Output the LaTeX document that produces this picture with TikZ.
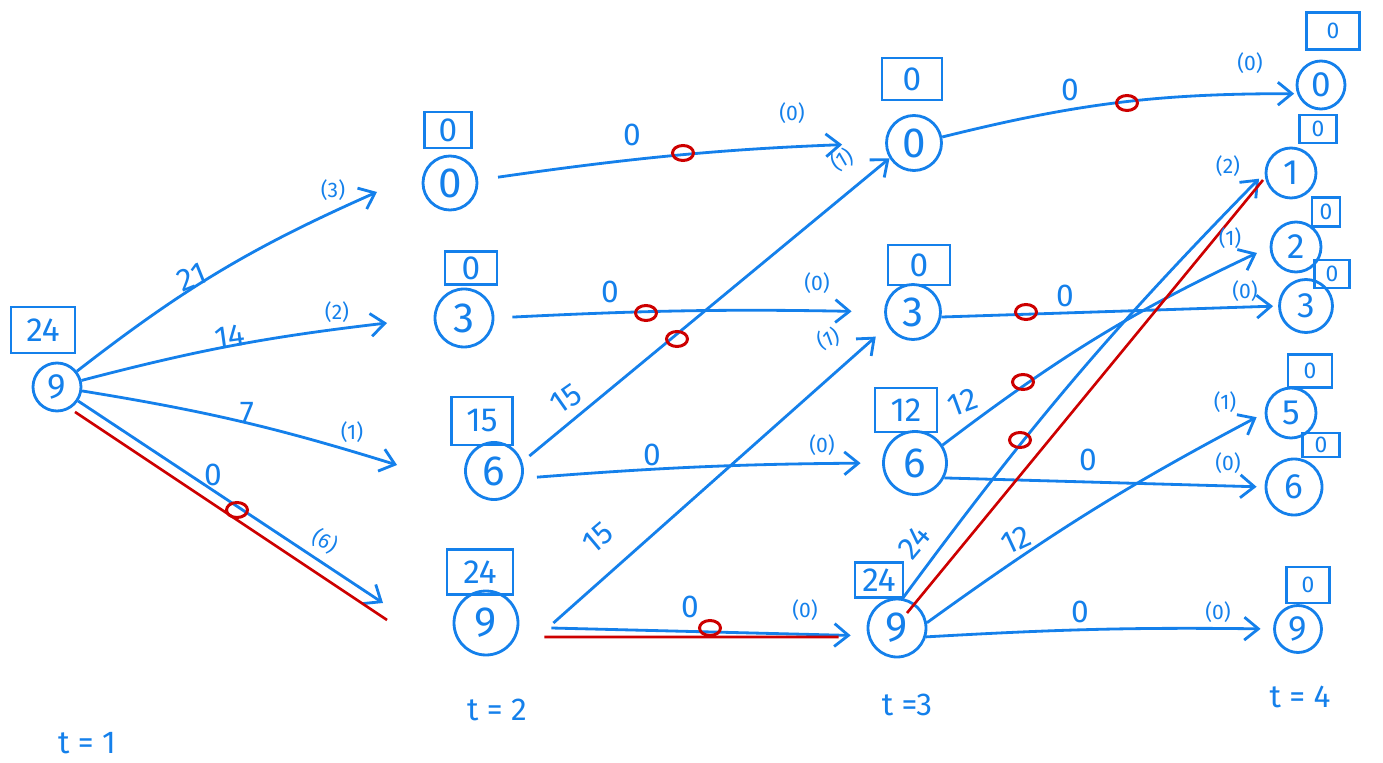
\documentclass[tikz,border=0pt]{standalone}
\usepackage{fontspec}
\setmainfont{Fira Sans}
\usetikzlibrary{arrows.meta,shapes.geometric}
\definecolor{penblue}{RGB}{20,128,235}
\definecolor{penred}{RGB}{205,0,0}
\tikzset{
  state/.style={circle,draw=penblue,line width=1.6pt,inner sep=0pt,minimum size=#1,text=penblue,font=\fontsize{24}{24}\selectfont},
  leaf/.style={state=#1,font=\fontsize{20}{20}\selectfont},
  valbox/.style 2 args={draw=penblue,line width=1.3pt,inner sep=0pt,minimum width=#1,minimum height=#2,text=penblue,font=\fontsize{19}{19}\selectfont},
  smallbox/.style 2 args={valbox={#1}{#2},font=\fontsize{13}{13}\selectfont},
  flow/.style={->,draw=penblue,line width=1.6pt},
  hilite/.style={draw=penred,line width=1.5pt},
  cut/.style={ellipse,draw=penred,line width=1.7pt,inner sep=0pt,minimum width=0.42cm,minimum height=0.3cm},
  cost/.style={text=penblue,font=\fontsize{18}{18}\selectfont},
  act/.style={text=penblue,font=\fontsize{12}{12}\selectfont},
  stage/.style={text=penblue,font=\fontsize{18}{18}\selectfont}
}
\begin{document}
\begin{tikzpicture}[x=0.02cm,y=0.02cm,>={Straight Barb[length=8pt,width=13pt]}]
  \useasboundingbox (0,0) rectangle (1383,-763);
  % states, t = 1
  \node[leaf=0.96cm] (one9) at (57,-387) {9};
  \node[valbox={1.28cm}{0.92cm}] (one9v) at (43,-330) {24};
  % states, t = 2
  \node[state=1.08cm] (two0) at (450,-183) {0};
  \node[state=1.16cm] (two3) at (464,-318) {3};
  \node[state=1.14cm] (two6) at (494,-471) {6};
  \node[state=1.28cm] (two9) at (486,-623) {9};
  \node[valbox={0.94cm}{0.72cm}] (two0v) at (448,-130) {0};
  \node[valbox={1.04cm}{0.66cm}] (two3v) at (471,-268) {0};
  \node[valbox={1.22cm}{0.96cm}] (two6v) at (482,-421) {15};
  \node[valbox={1.32cm}{0.9cm}] (two9v) at (480,-572) {24};
  % states, t = 3
  \node[state=1.1cm] (three0) at (914,-143) {0};
  \node[state=1.1cm] (three3) at (913,-312) {3};
  \node[state=1.26cm] (three6) at (915,-463) {6};
  \node[state=1.16cm] (three9) at (897,-628) {9};
  \node[valbox={1.2cm}{0.84cm}] (three0v) at (912,-79) {0};
  \node[valbox={1.24cm}{0.8cm}] (three3v) at (919,-265) {0};
  \node[valbox={1.24cm}{0.88cm}] (three6v) at (906,-410) {12};
  \node[valbox={0.96cm}{0.7cm}] (three9v) at (879,-580) {24};
  % states, t = 4
  \node[leaf=0.96cm] (four0) at (1321,-85) {0};
  \node[leaf=1cm] (four1) at (1291,-173) {1};
  \node[leaf=1cm] (four2) at (1296,-247) {2};
  \node[leaf=1.06cm] (four3) at (1306,-306) {3};
  \node[leaf=1cm] (four5) at (1291,-413) {5};
  \node[leaf=1.12cm] (four6) at (1294,-487) {6};
  \node[leaf=0.94cm] (four9) at (1298,-629) {9};
  \node[smallbox={1.06cm}{0.74cm}] (four0v) at (1333,-31) {0};
  \node[smallbox={0.74cm}{0.56cm}] (four1v) at (1318,-129) {0};
  \node[smallbox={0.56cm}{0.58cm}] (four2v) at (1326,-212) {0};
  \node[smallbox={0.7cm}{0.56cm}] (four3v) at (1332,-274) {0};
  \node[smallbox={0.88cm}{0.66cm}] (four5v) at (1310,-371) {0};
  \node[smallbox={0.74cm}{0.48cm}] (four6v) at (1321,-445) {0};
  \node[smallbox={0.86cm}{0.72cm}] (four9v) at (1308,-585) {0};
  % decisions at t = 1
  \coordinate (tip3) at (377,-192);
  \coordinate (tip2) at (387,-323);
  \coordinate (tip1) at (397,-465);
  \coordinate (tip6) at (383,-603);
  \coordinate (tail1) at (387,-620);
  \draw[flow] (one9) to[bend left=7] (tip3);
  \draw[flow] (one9) to[bend left=4] (tip2);
  \draw[flow] (one9) to[bend left=4] (tip1);
  \draw[flow] (one9) -- (tip6);
  \draw[hilite] ([shift={(0.36cm,-0.5cm)}]one9.center) -- (tail1); % chosen path
  \node[cost,rotate=22] (cost21) at (192,-277) {21};
  \node[cost,rotate=8] (cost14) at (230,-337) {14};
  \node[cost] (cost7) at (247,-413) {7};
  \node[cost] (cost0a) at (213,-475) {0};
  \node[act] (act3) at (333,-190) {(3)};
  \node[act] (act2) at (337,-312) {(2)};
  \node[act] (act1) at (352,-432) {(1)};
  \node[act,rotate=-30] (act6) at (325,-541) {(6)};
  \node[cut] (cut1) at (237,-510) {};
  % decisions at t = 2
  \draw[flow,shorten <=0.4cm,shorten >=0.86cm] (two0.6) to[bend left=3] (three0.west);
  \draw[flow,shorten <=0.36cm,shorten >=0.65cm] (two3.east) to[bend left=2] (three3.west);
  \draw[flow,shorten <=0.18cm] (two6.18) -- (three0.212);
  \draw[flow,shorten <=0.28cm,shorten >=0.43cm] (two6.-14) to[bend left=2] (three6.west);
  \draw[flow,shorten >=0.32cm] ([xshift=0.68cm]two9.east) -- (three3.209);
  \draw[flow,shorten >=0.34cm] ([shift={(0.64cm,-0.1cm)}]two9.east) -- (three9.195);
  \draw[hilite] ([shift={(0.5cm,-0.28cm)}]two9.east) -- ([shift={(-0.56cm,-0.18cm)}]three9.west); % chosen path
  \node[cost] (cost0b) at (632,-135) {0};
  \node[cost] (cost0c) at (610,-292) {0};
  \node[cost,rotate=35] (cost15a) at (566,-399) {15};
  \node[cost] (cost0d) at (652,-455) {0};
  \node[cost,rotate=40] (cost15b) at (598,-538) {15};
  \node[cost] (cost0e) at (690,-607) {0};
  \node[act] (act0a) at (792,-113) {(0)};
  \node[act] (act0b) at (817,-283) {(0)};
  \node[act,rotate=30] (act1a) at (842,-160) {(1)};
  \node[act] (act0c) at (822,-445) {(0)};
  \node[act,rotate=20] (act1b) at (828,-339) {(1)};
  \node[act] (act0d) at (805,-610) {(0)};
  \node[cut] (cut2) at (683,-153) {};
  \node[cut] (cut3) at (646,-313) {};
  \node[cut] (cut4) at (677,-339) {};
  \node[cut] (cut5) at (710,-628) {};
  % decisions at t = 3
  \draw[flow,shorten >=0.06cm] (three0.12) to[bend left=7] (four0.200);
  \draw[flow,shorten >=0.1cm] (three3.-10) -- (four3.west);
  \draw[flow,shorten >=0.28cm] (three6.33) to[bend left=6] (four2.west);
  \draw[flow,shorten >=0.16cm] (three6.-27) -- (four6.west);
  \draw[flow,shorten >=0.16cm] (three9.79) to[bend left=4] (four1.west);
  \draw[flow,shorten >=0.18cm] (three9.10) to[bend left=4] (four5.west);
  \draw[flow,shorten >=0.25cm] (three9.-17) to[bend left=2] (four9.west);
  \draw[hilite] ([shift={(0.2cm,0.3cm)}]three9.center) -- ([shift={(-0.56cm,-0.14cm)}]four1.center); % chosen path
  \node[cost] (cost0f) at (1070,-90) {0};
  \node[cost] (cost0g) at (1065,-296) {0};
  \node[cost,rotate=20] (cost12a) at (963,-402) {12};
  \node[cost] (cost0h) at (1088,-460) {0};
  \node[cost,rotate=50] (cost24) at (914,-542) {24};
  \node[cost,rotate=25] (cost12b) at (1016,-540) {12};
  \node[cost] (cost0i) at (1080,-612) {0};
  \node[act] (act0e) at (1250,-63) {(0)};
  \node[act] (act0f) at (1245,-291) {(0)};
  \node[act] (act1c) at (1230,-238) {(1)};
  \node[act] (act0g) at (1228,-463) {(0)};
  \node[act] (act2a) at (1228,-166) {(2)};
  \node[act] (act1d) at (1225,-402) {(1)};
  \node[act] (act0h) at (1218,-612) {(0)};
  \node[cut] (cut6) at (1127,-103) {};
  \node[cut] (cut7) at (1026,-312) {};
  \node[cut] (cut8) at (1023,-382) {};
  \node[cut] (cut9) at (1020,-440) {};
  % time axis
  \node[stage] (time1) at (87,-743) {t = 1};
  \node[stage] (time2) at (497,-710) {t = 2};
  \node[stage] (time3) at (907,-705) {t =3};
  \node[stage] (time4) at (1300,-697) {t = 4};
\end{tikzpicture}
\end{document}
